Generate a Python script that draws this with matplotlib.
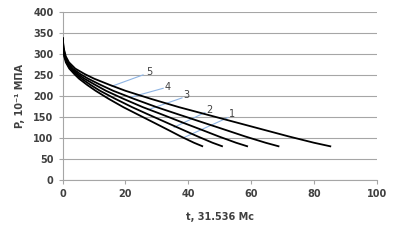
import matplotlib
matplotlib.use("Agg")
import matplotlib.pyplot as plt

# Pressure levels shared by all curves
p_levels = [340, 315, 295, 281, 266, 253, 242, 227, 213, 194, 174, 158, 136, 118, 104, 89, 80]

# Time values for each curve
t_curve5 = [0, 0.3, 1.0, 2.0, 4.0, 7.0, 10.0, 15.0, 20.0, 28.0, 37.0, 45.0, 56.0, 65.0, 72.0, 80.0, 85.5]
t_curve4 = [0, 0.24, 0.8, 1.6, 3.2, 5.6, 8.1, 12.1, 16.1, 22.6, 29.9, 36.3, 45.2, 52.5, 58.1, 64.6, 69.0]
t_curve3 = [0, 0.2, 0.7, 1.4, 2.8, 4.8, 6.9, 10.4, 13.8, 19.3, 25.5, 31.1, 38.6, 44.9, 49.7, 55.2, 59.0]
t_curve2 = [0, 0.18, 0.6, 1.2, 2.4, 4.2, 6.0, 8.9, 11.9, 16.7, 22.1, 26.8, 33.4, 38.8, 43.0, 47.7, 51.0]
t_curve1 = [0, 0.16, 0.5, 1.0, 2.1, 3.7, 5.2, 7.8, 10.5, 14.6, 19.3, 23.5, 29.3, 34.0, 37.6, 41.8, 44.7]

curve_labels = ["1", "2", "3", "4", "5"]
label_text_pos = [(54.0, 157), (46.7, 167), (39.3, 202), (33.5, 221), (27.5, 257)]
label_line_start = [(52.6, 149), (45.3, 161), (38.0, 196), (32.0, 219), (25.6, 251)]
label_line_end = [(38.5, 101), (35.5, 126), (27.2, 168), (21.4, 197), (15.7, 224)]

x_ticks = [0, 20, 40, 60, 80, 100]
y_ticks = [0, 50, 100, 150, 200, 250, 300, 350, 400]

fig = plt.figure(figsize=(3.98, 2.40), dpi=100)
ax = fig.add_axes([0.1575, 0.25, 0.789, 0.698])

for tv in [t_curve1, t_curve2, t_curve3, t_curve4, t_curve5]:
    ax.plot(tv, p_levels, color="black", lw=1.3, solid_capstyle="butt", zorder=3)

ann_color = "#8eb4e3"
for lab, tp, ls, le in zip(curve_labels, label_text_pos, label_line_start, label_line_end):
    ax.plot([ls[0], le[0]], [ls[1], le[1]], color=ann_color, lw=0.8, zorder=2)
    ax.text(tp[0], tp[1], lab, fontsize=7, color="#404040", ha="center", va="center", zorder=4)

ax.set_xlim(0, 100)
ax.set_ylim(0, 400)
ax.set_xticks(x_ticks)
ax.set_yticks(y_ticks)
ax.grid(axis="y", color="#a6a6a6", lw=0.8)
ax.set_axisbelow(True)
for s in ["top", "right"]:
    ax.spines[s].set_visible(False)
for s in ["left", "bottom"]:
    ax.spines[s].set_color("#a6a6a6")
    ax.spines[s].set_linewidth(0.8)
ax.tick_params(axis="both", colors="#a6a6a6", length=3, width=0.8, labelsize=7, labelcolor="#404040")
for lbl in ax.get_xticklabels() + ax.get_yticklabels():
    lbl.set_fontweight("bold")

ax.set_xlabel("t, 31.536 Мс", fontsize=7, fontweight="bold", color="#404040", labelpad=9)
ax.set_ylabel("P, 10⁻¹ МПА", fontsize=7, fontweight="bold", color="#404040", labelpad=6)

fig.savefig("out.png", dpi=100)
